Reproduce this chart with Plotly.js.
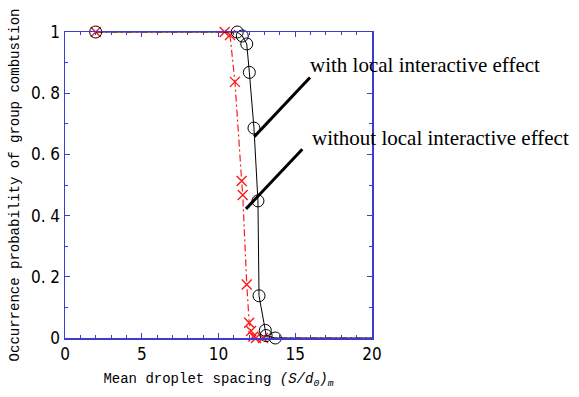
<!DOCTYPE html>
<html>
<head>
<meta charset="utf-8">
<script src="https://cdn.plot.ly/plotly-3.0.1.min.js"></script>
<style>html,body{margin:0;padding:0;background:#fff;}#chart{width:579px;height:397px;}</style>
</head>
<body>
<div id="chart"></div>
<script>
// Data
const withX = [2, 11.22, 11.55, 11.84, 12.01, 12.31, 12.57, 12.64, 13.05, 13.1, 13.7];
const withY = [1, 1, 0.987, 0.961, 0.868, 0.686, 0.448, 0.138, 0.025, 0.008, 0];
const withoutX = [2, 10.4, 10.75, 11.07, 11.51, 11.58, 11.84, 12.0, 12.12, 12.27, 12.44, 12.9];
const withoutY = [1, 1, 0.99, 0.837, 0.513, 0.467, 0.175, 0.05, 0.023, 0.005, 0, 0];
const tailX = 20, tailY = 0;

const xTickVals = [0, 5, 10, 15, 20];
const xTickText = ['0', '5', '10', '15', '20'];
const yTickVals = [0, 0.2, 0.4, 0.6, 0.8, 1];
const yTickText = ['0', '0. 2', '0. 4', '0. 6', '0. 8', '1'];

const labelWith = 'with local interactive effect';
const labelWithout = 'without local interactive effect';

const axisBlue = '#3c3cd2';
const red = '#ff1a1a';

const traces = [
  {x: withoutX.concat([tailX]), y: withoutY.concat([tailY]), mode: 'lines',
   line: {color: red, width: 1.2, dash: '7px,3px,2px,3px'}, hoverinfo: 'skip', cliponaxis: false},
  {x: withoutX, y: withoutY, mode: 'markers',
   marker: {symbol: 'x-thin-open', size: 10, color: red, line: {color: red, width: 1.4}}, cliponaxis: false},
  {x: withX.concat([tailX]), y: withY.concat([tailY]), mode: 'lines',
   line: {color: '#000', width: 1}, hoverinfo: 'skip', cliponaxis: false},
  {x: withX, y: withY, mode: 'markers',
   marker: {symbol: 'circle-open', size: 12, color: '#000', line: {color: '#000', width: 1}}, cliponaxis: false}
];

const tickFont = {family: '"DejaVu Sans Condensed", "DejaVu Sans", sans-serif', size: 17, color: '#000'};
const titleFont = {family: '"Liberation Mono", "DejaVu Sans Mono", monospace', size: 14, color: '#000'};
const noteFont = {family: '"Liberation Serif", "Times New Roman", serif', size: 21, color: '#000'};

const layout = {
  width: 579, height: 397,
  margin: {l: 65, r: 207, t: 32, b: 59},
  paper_bgcolor: '#fff', plot_bgcolor: '#fff',
  showlegend: false,
  xaxis: {
    range: [0, 20], tickvals: xTickVals, ticktext: xTickText,
    ticks: 'inside', ticklen: 5, tickcolor: axisBlue, tickwidth: 1.2,
    minor: {dtick: 1, ticks: 'inside', ticklen: 3, tickcolor: axisBlue, tickwidth: 1},
    showline: true, linecolor: axisBlue, linewidth: 1.5, mirror: 'allticks',
    showgrid: false, zeroline: false, tickfont: tickFont,
    title: {text: 'Mean droplet spacing <i>(S/d<sub>0</sub>)<sub>m</sub></i>', font: titleFont, standoff: 10}
  },
  yaxis: {
    range: [0, 1], tickvals: yTickVals, ticktext: yTickText,
    ticks: 'inside', ticklen: 5, tickcolor: axisBlue, tickwidth: 1.2,
    minor: {dtick: 0.1, ticks: 'inside', ticklen: 3, tickcolor: axisBlue, tickwidth: 1},
    showline: true, linecolor: axisBlue, linewidth: 1.5, mirror: 'allticks',
    showgrid: false, zeroline: false, tickfont: tickFont,
    title: {text: 'Occurrence probability of group combustion', font: titleFont, standoff: 8}
  },
  shapes: [
    {type: 'line', xref: 'x', yref: 'y', x0: 12.33, y0: 0.658, x1: 15.96, y1: 0.851, line: {color: '#000', width: 3}},
    {type: 'line', xref: 'x', yref: 'y', x0: 11.79, y0: 0.422, x1: 15.46, y1: 0.617, line: {color: '#000', width: 3}}
  ],
  annotations: [
    {xref: 'x', yref: 'y', x: 15.83, y: 0.892, xanchor: 'left', yanchor: 'middle', showarrow: false,
     text: labelWith, font: noteFont},
    {xref: 'x', yref: 'y', x: 15.96, y: 0.655, xanchor: 'left', yanchor: 'middle', showarrow: false,
     text: labelWithout, font: noteFont}
  ]
};

Plotly.newPlot('chart', traces, layout, {staticPlot: true, displayModeBar: false});
</script>
</body>
</html>
